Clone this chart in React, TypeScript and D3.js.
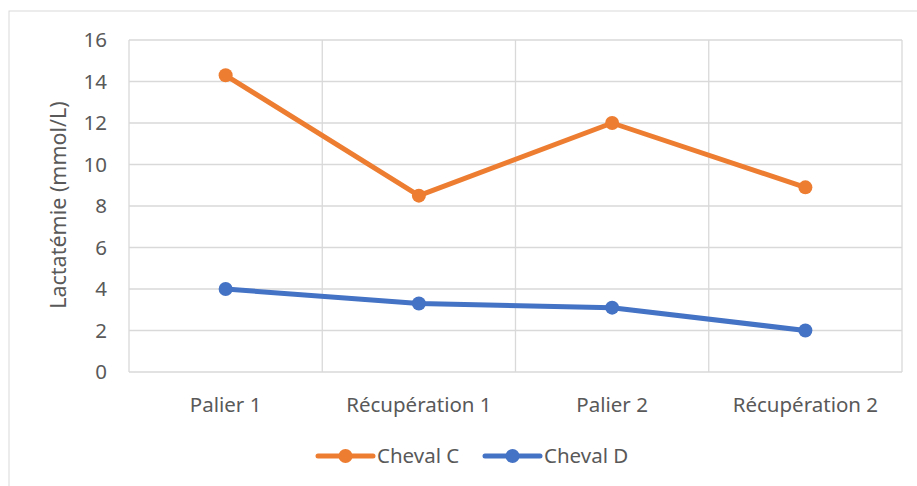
import React from "react";
import * as d3 from "d3";

const categories = ["Palier 1", "Récupération 1", "Palier 2", "Récupération 2"];
const chevalC = [14.3, 8.5, 12.0, 8.9];
const chevalD = [4.0, 3.3, 3.1, 2.0];
const yTicks = [0, 2, 4, 6, 8, 10, 12, 14, 16];
const seriesNames = ["Cheval C", "Cheval D"];
const seriesColors = ["#ED7D31", "#4472C4"];

const W = 917;
const H = 486;
const plot = { left: 129, right: 902, top: 40, bottom: 372 };
const font = "'Noto Sans', 'Open Sans', sans-serif";
const textColor = "#595959";
const fs = 20.5;

export default function App() {
  const x = d3
    .scaleBand<string>()
    .domain(categories)
    .range([plot.left, plot.right]);
  const y = d3.scaleLinear().domain([0, 16]).range([plot.bottom, plot.top]);
  const cx = (c: string) => (x(c) ?? 0) + x.bandwidth() / 2;
  const line = d3
    .line<number>()
    .x((_, i) => cx(categories[i]))
    .y((d) => y(d));
  const series = [chevalC, chevalD];
  const boundaries = [...categories.map((c) => x(c) ?? 0), plot.right];

  return (
    <svg
      width={W}
      height={H}
      style={{ position: "absolute", left: 0, top: 0, background: "#fff" }}
    >
      <rect x={9} y={11} width={W + 10} height={H + 10} fill="#fff" stroke="#d9d9d9" strokeWidth={1} />
      {yTicks.map((t) => (
        <line key={"h" + t} x1={plot.left} x2={plot.right} y1={y(t)} y2={y(t)} stroke="#d9d9d9" strokeWidth={1.3} />
      ))}
      {boundaries.map((b, i) => (
        <line key={"v" + i} x1={b} x2={b} y1={plot.top} y2={plot.bottom} stroke="#d9d9d9" strokeWidth={1.3} />
      ))}
      {yTicks.map((t) => (
        <text key={"t" + t} x={107} y={y(t)} dy="0.35em" textAnchor="end" fontFamily={font} fontSize={fs} fill={textColor}>
          {t}
        </text>
      ))}
      {categories.map((c) => (
        <text key={"c" + c} x={cx(c)} y={405} dy="0.35em" textAnchor="middle" fontFamily={font} fontSize={fs} fill={textColor}>
          {c}
        </text>
      ))}
      <text
        transform={`translate(58, ${(plot.top + plot.bottom) / 2 - 1}) rotate(-90)`}
        textAnchor="middle"
        dy="0.35em"
        fontFamily={font}
        fontSize={21.5}
        fill={textColor}
      >
        Lactatémie (mmol/L)
      </text>
      {series.map((s, si) => (
        <g key={"s" + si}>
          <path d={line(s) ?? ""} fill="none" stroke={seriesColors[si]} strokeWidth={5} strokeLinejoin="round" strokeLinecap="round" />
          {s.map((v, i) => (
            <circle key={i} cx={cx(categories[i])} cy={y(v)} r={7} fill={seriesColors[si]} />
          ))}
        </g>
      ))}
      {seriesNames.map((n, i) => {
        const lx = 318 + i * 167;
        return (
          <g key={"l" + n}>
            <line x1={lx} x2={lx + 55} y1={456} y2={456} stroke={seriesColors[i]} strokeWidth={5} strokeLinecap="round" />
            <circle cx={lx + 27.5} cy={456} r={7} fill={seriesColors[i]} />
            <text x={lx + 59} y={456} dy="0.35em" fontFamily={font} fontSize={fs} fill={textColor}>
              {n}
            </text>
          </g>
        );
      })}
    </svg>
  );
}
